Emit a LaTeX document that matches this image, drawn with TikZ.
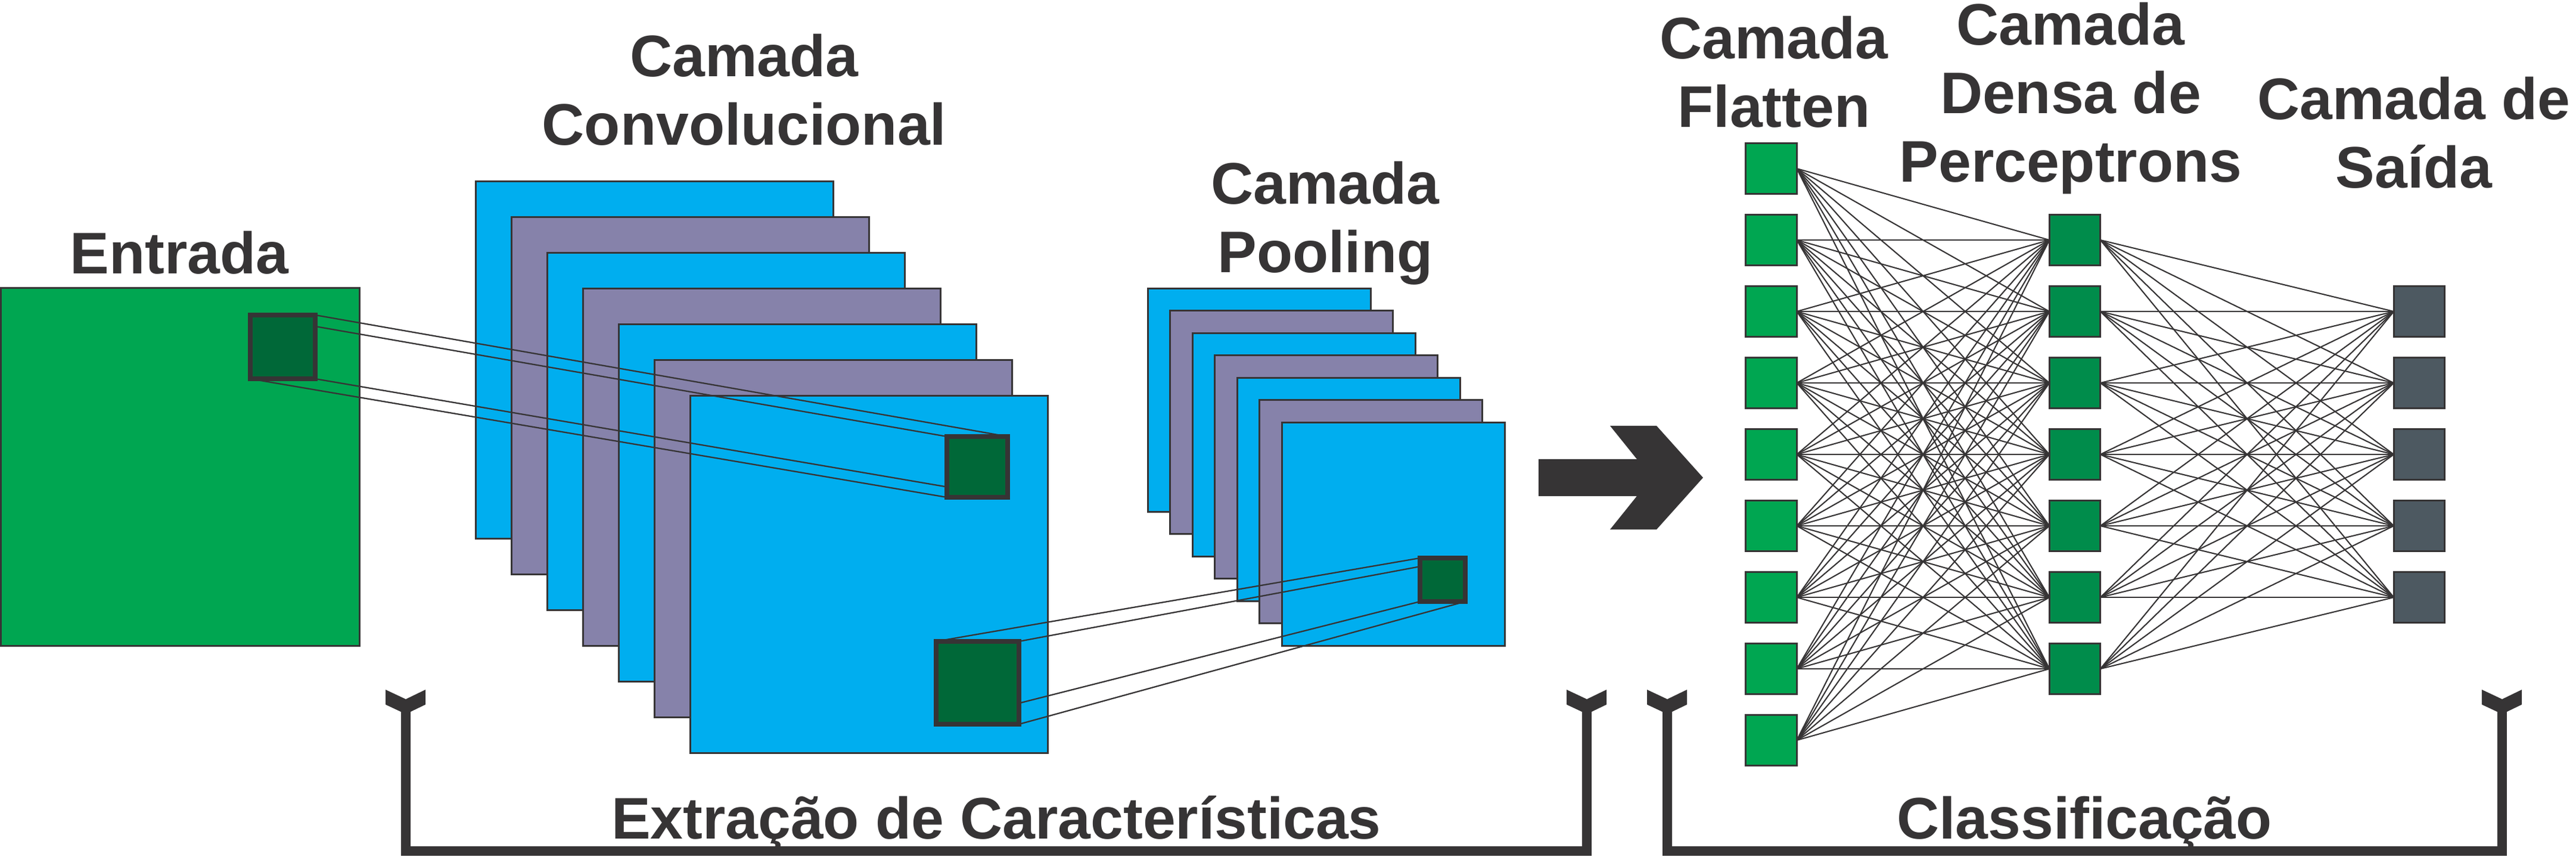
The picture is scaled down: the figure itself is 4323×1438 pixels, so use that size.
\documentclass[tikz,border=0pt]{standalone}
\usepackage{fontspec}
\setmainfont{Liberation Sans}
\definecolor{ink}{HTML}{363435}
\definecolor{cgreen}{HTML}{00A651}
\definecolor{dkgreen}{HTML}{006838}
\definecolor{dgreen}{HTML}{008C4B}
\definecolor{slate}{HTML}{4D5961}
\definecolor{cblue}{HTML}{00AEEF}
\definecolor{cpurple}{HTML}{8682AA}
\pgfdeclarelayer{sheets}
\pgfdeclarelayer{links}
\pgfsetlayers{sheets,links,main}
\begin{document}
\begin{tikzpicture}[x=0.01cm,y=-0.01cm,
  lbl/.style={font=\fontsize{28}{32.7}\selectfont\bfseries, text=ink, align=center, anchor=base, inner sep=0pt},
  sheet/.style={draw=ink, line width=0.85pt},
  patch/.style={draw=ink, line width=2.3pt, fill=dkgreen, inner sep=0pt, outer sep=0pt},
  proj/.style={draw=ink, line width=0.65pt},
  neuron/.style={draw=ink, line width=0.85pt, minimum width=0.855cm, minimum height=0.85cm, inner sep=0pt, outer sep=0pt},
  link/.style={draw=ink, line width=0.6pt},
  bracket/.style={draw=ink, line width=4.55pt, line join=miter}
]
\useasboundingbox (0,0) rectangle (4323,1438);

% ---------- sheets ----------
\begin{pgfonlayer}{sheets}
  \draw[sheet, fill=cgreen] (1.5,483) rectangle (603,1084);
  \foreach \k in {0,...,6}{
    \ifodd\k \def\col{cpurple}\else\def\col{cblue}\fi
    \draw[sheet, fill=\col] (798+60*\k,304+60*\k) rectangle ++(600,600);
  }
  \foreach \k in {0,...,6}{
    \ifodd\k \def\col{cpurple}\else\def\col{cblue}\fi
    \draw[sheet, fill=\col] (1926+37.5*\k,484+37.5*\k) rectangle ++(374,375);
  }
\end{pgfonlayer}

% ---------- patches ----------
\node[patch, minimum width=1.09cm, minimum height=1.07cm] (pin) at (474.5,582.5) {};
\node[patch, minimum width=1.02cm, minimum height=1.02cm] (pc) at (1640,784) {};
\node[patch, minimum width=1.39cm, minimum height=1.39cm] (pb) at (1640.5,1146.5) {};
\node[patch, minimum width=0.76cm, minimum height=0.73cm] (pp) at (2421,973.5) {};

\begin{pgfonlayer}{links}
  \foreach \a in {north west,north east,south west,south east}{
    \draw[proj] (pin.\a) -- (pc.\a);
    \draw[proj] (pb.\a) -- (pp.\a);
  }
\end{pgfonlayer}

% ---------- arrow ----------
\fill[ink] (2582,771) -- (2747,771) -- (2702,715) -- (2780,715) -- (2858,802)
  -- (2780,889) -- (2702,889) -- (2747,833) -- (2582,833) -- cycle;

% ---------- network ----------
\foreach \i in {1,...,9}
  \node[neuron, fill=cgreen] (f\i) at (2972.5,{283+120*\i-120}) {};
\foreach \j in {1,...,7}
  \node[neuron, fill=dgreen] (d\j) at (3482,{403+120*\j-120}) {};
\foreach \k in {1,...,5}
  \node[neuron, fill=slate] (o\k) at (4060,{523+120*\k-120}) {};

\begin{pgfonlayer}{links}
  \foreach \i in {1,...,9}
    \foreach \j in {1,...,7}
      \draw[link] (f\i.east) -- (d\j.west);
  \foreach \j in {1,...,7}
    \foreach \k in {1,...,5}
      \draw[link] (d\j.east) -- (o\k.west);
\end{pgfonlayer}

% ---------- brackets ----------
\foreach \cx in {681,2663,2798,4199}{
  \fill[ink] (\cx-34,1158) -- (\cx,1174) -- (\cx+33,1158) -- (\cx+33,1183)
    -- (\cx,1199) -- (\cx-34,1183) -- cycle;
}
\coordinate (eL) at (681,1190);
\coordinate (eR) at (2663,1190);
\coordinate (cL) at (2798,1190);
\coordinate (cR) at (4199,1190);
\draw[bracket] (eL) -- (681,1429) -- (2663,1429) -- (eR);
\draw[bracket] (cL) -- (2798,1429) -- (4199,1429) -- (cR);

% ---------- labels (anchor = baseline of the last line) ----------
\node[lbl] (tin) at (301,459) {Entrada};
\node[lbl] (tconv) at (1249,243) {Camada\\Convolucional};
\node[lbl] (tpool) at (2224,457) {Camada\\Pooling};
\node[lbl] (tflat) at (2977,213) {Camada\\Flatten};
\node[lbl] (tdense) at (3475,305) {Camada\\Densa de\\Perceptrons};
\node[lbl] (tout) at (4051,315) {Camada de\\Saída};
\node[lbl] (text) at (1672,1408) {Extração de Características};
\node[lbl] (tcls) at (3498,1408) {Classificação};
\end{tikzpicture}
\end{document}
